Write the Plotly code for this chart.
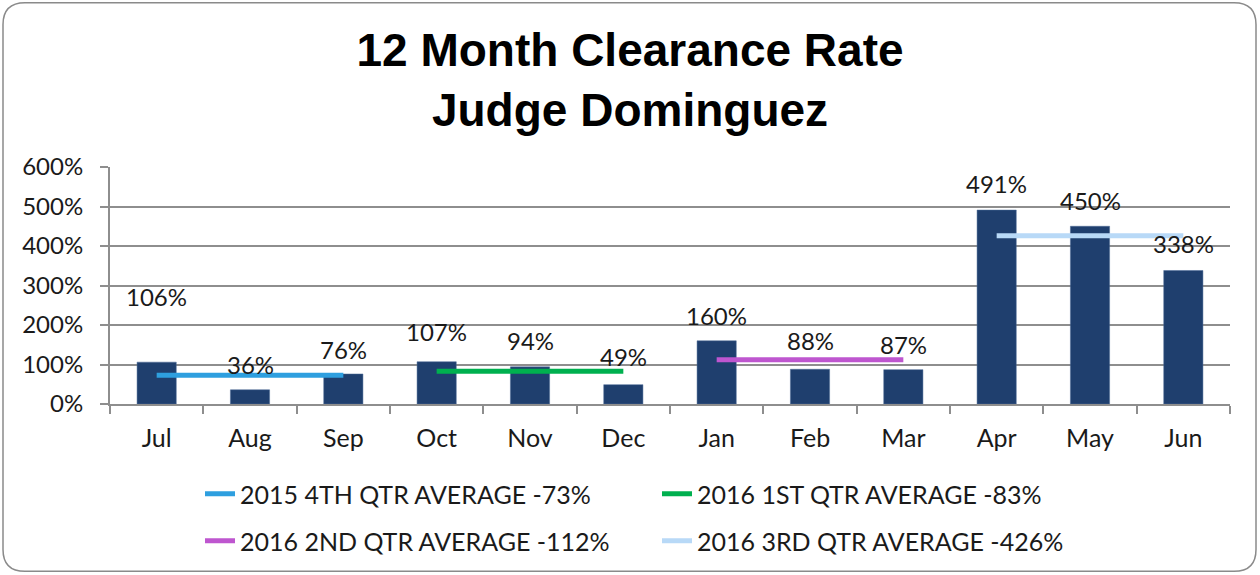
import plotly.graph_objects as go

months = ["Jul", "Aug", "Sep", "Oct", "Nov", "Dec", "Jan", "Feb", "Mar", "Apr", "May", "Jun"]
rates = [106, 36, 76, 107, 94, 49, 160, 88, 87, 491, 450, 338]

avg_names = ["2015 4TH QTR AVERAGE -73%", "2016 1ST QTR AVERAGE -83%",
             "2016 2ND QTR AVERAGE -112%", "2016 3RD QTR AVERAGE -426%"]
avg_values = [73, 83, 112, 426]
avg_spans = [("Jul", "Sep"), ("Oct", "Dec"), ("Jan", "Mar"), ("Apr", "Jun")]

y_ticks = [0, 100, 200, 300, 400, 500, 600]

# label placement (layout only, in axis units) as in the original chart
label_pos = [272, 101, 139, 184, 161, 121, 224, 161, 151, 557, 514, 406]

avg_colors = ["#2E9FDF", "#00B04F", "#BE56CF", "#B8D9F7"]
bar_color = "#1F3F6E"
grid_color = "#8E8E8E"
font_fam = "Lato, 'Open Sans', sans-serif"

fig = go.Figure()
fig.add_trace(go.Bar(x=months, y=rates, marker=dict(color=bar_color, line=dict(color="#4C6A96", width=0.5)),
                     showlegend=False, hoverinfo="x+y"))

legends = ["legend", "legend", "legend2", "legend2"]
for name, val, (a, b), col, lg in zip(avg_names, avg_values, avg_spans, avg_colors, legends):
    fig.add_trace(go.Scatter(x=[a, b], y=[val, val], mode="lines", name=name,
                             line=dict(color=col, width=5), legend=lg))

for m, r, p in zip(months, rates, label_pos):
    fig.add_annotation(x=m, y=p, text=f"{r}%", showarrow=False,
                       font=dict(family=font_fam, size=24, color="#1A1A1A"))

L, R, T, B = 110, 30, 167, 170
W, H = 1260, 575
pw, ph = W - L - R, H - T - B

def px(x):
    return (x - L) / pw

def py(y):
    return (H - B - y) / ph

# rounded border around the chart area
x0, x1, y0, y1, rr = 3, 1256, 2, 573, 22
path = (f"M {px(x0 + rr)},{py(y0)} L {px(x1 - rr)},{py(y0)} Q {px(x1)},{py(y0)} {px(x1)},{py(y0 + rr)} "
        f"L {px(x1)},{py(y1 - rr)} Q {px(x1)},{py(y1)} {px(x1 - rr)},{py(y1)} "
        f"L {px(x0 + rr)},{py(y1)} Q {px(x0)},{py(y1)} {px(x0)},{py(y1 - rr)} "
        f"L {px(x0)},{py(y0 + rr)} Q {px(x0)},{py(y0)} {px(x0 + rr)},{py(y0)} Z")
fig.add_shape(type="path", path=path, xref="paper", yref="paper",
              line=dict(color="#8A8A8A", width=1.5), layer="below")

legend_common = dict(orientation="h", font=dict(family=font_fam, size=25, color="#1A1A1A"),
                     bgcolor="rgba(0,0,0,0)", entrywidth=412, xanchor="left", yanchor="middle",
                     itemwidth=30)

fig.update_layout(
    width=W, height=H,
    margin=dict(l=L, r=R, t=T, b=B),
    paper_bgcolor="white", plot_bgcolor="white",
    title=dict(text="<b>12 Month Clearance Rate<br>Judge Dominguez</b>",
               x=0.5, xref="container", y=1 - 66 / H, yref="container", yanchor="middle",
               font=dict(family="Liberation Sans, Arial, sans-serif", size=46, color="black")),
    bargap=0.58,
    xaxis=dict(type="category", showline=True, linecolor=grid_color, linewidth=2,
               ticks="outside", tickson="boundaries", ticklen=8, tickcolor=grid_color, tickwidth=2,
               ticklabelstandoff=11,
               tickfont=dict(family=font_fam, size=25, color="#1A1A1A"), showgrid=False),
    yaxis=dict(range=[0, 600], tickvals=y_ticks, ticktext=[f"{v}%" for v in y_ticks],
               showline=True, linecolor=grid_color, linewidth=2,
               showgrid=True, gridcolor=grid_color, gridwidth=2, zeroline=False,
               ticks="outside", ticklen=8, tickcolor=grid_color, tickwidth=2,
               ticklabelstandoff=12,
               tickfont=dict(family=font_fam, size=24, color="#1A1A1A")),
    legend=dict(x=px(200), y=py(494), **legend_common),
    legend2=dict(x=px(200), y=py(541), **legend_common),
)

fig.write_html("out.html", config={"displayModeBar": False},
               post_script="document.body.style.margin='0px';")
